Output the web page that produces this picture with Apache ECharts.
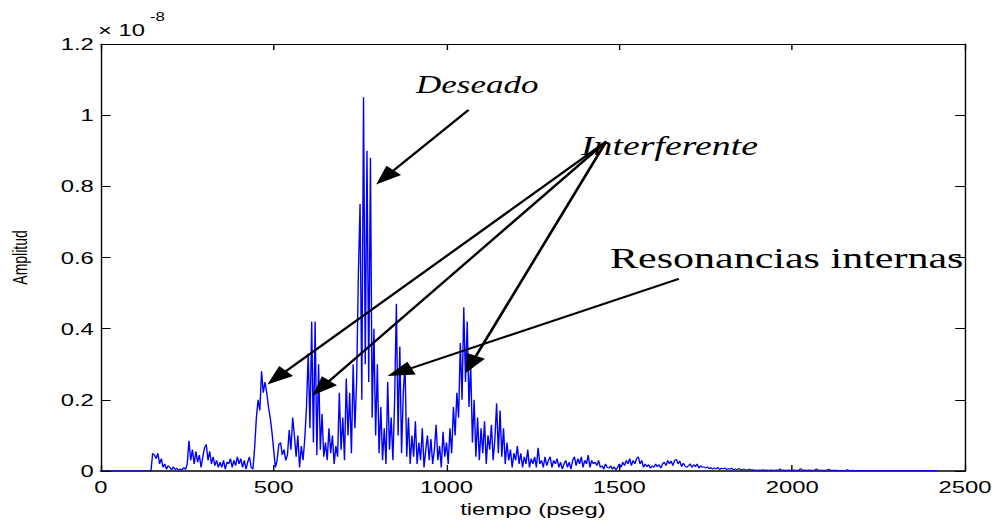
<!DOCTYPE html>
<html><head><meta charset="utf-8">
<script src="https://cdn.jsdelivr.net/npm/echarts@6.0.0/dist/echarts.min.js"></script>
<style>
html,body{margin:0;padding:0;background:#fff;overflow:hidden;}
#chart{width:712px;height:522px;transform:scaleX(1.40028);transform-origin:0 0;}
</style></head><body><div id="chart"></div>
<script>
// time axis (ps): first sample and sampling step
const timeStart = 0;
const timeStep = 5;
// amplitude in units of 1e-8, one value per sample
const amplitude = [
0,0,0,0,0,0,0,0,0,0,
0,0,0,0,0,0,0,0,0,0,
0,0,0,0,0,0,0,0,0,0,
0.05,0.045,0.035,0.05,0.02,0.035,0.01,0.02,0.005,0.015,
0.01,0.003,0.012,0.004,0.008,0.002,0.006,0.003,0.01,0.004,
0.02,0.085,0.03,0.06,0.02,0.055,0.025,0.045,0.01,0.04,
0.065,0.075,0.03,0.055,0.02,0.04,0.015,0.03,0.01,0.025,
0.01,0.03,0.005,0.025,0.02,0.035,0.01,0.03,0.015,0.04,
0.02,0.035,0.01,0.03,0.005,0.025,0.04,0.01,0.005,0.065,
0.15,0.2,0.17,0.28,0.22,0.25,0.22,0.18,0.15,0.11,
0.06,0.01,0.03,0.075,0.08,0.045,0.06,0.03,0.045,0.115,
0.06,0.15,0.1,0.04,0.1,0.01,0.07,0.03,0.09,0.18,
0.33,0.12,0.42,0.08,0.42,0.045,0.3,0.06,0.16,0.04,
0.08,0.03,0.12,0.05,0.1,0.02,0.07,0.04,0.22,0.06,
0.15,0.03,0.26,0.1,0.22,0.05,0.3,0.12,0.25,0.55,
0.75,0.2,1.05,0.3,0.9,0.25,0.88,0.15,0.4,0.1,
0.3,0.05,0.18,0.03,0.12,0.02,0.25,0.06,0.15,0.03,
0.2,0.47,0.1,0.35,0.05,0.22,0.3,0.04,0.15,0.02,
0.1,0.04,0.14,0.02,0.08,0.03,0.12,0.01,0.06,0.1,
0.03,0.09,0.02,0.06,0.13,0.03,0.07,0.01,0.11,0.04,
0.08,0.02,0.12,0.05,0.18,0.1,0.22,0.15,0.36,0.2,
0.46,0.25,0.42,0.18,0.3,0.08,0.2,0.04,0.15,0.03,
0.12,0.05,0.14,0.02,0.1,0.06,0.13,0.03,0.09,0.19,
0.05,0.17,0.04,0.12,0.02,0.08,0.03,0.06,0.01,0.05,
0.03,0.07,0.02,0.05,0.01,0.04,0.02,0.06,0.01,0.035,
0.02,0.04,0.01,0.065,0.02,0.03,0.01,0.04,0.015,0.03,
0.04,0.01,0.03,0.02,0.035,0.01,0.025,0.005,0.02,0.03,
0.01,0.025,0.005,0.03,0.04,0.015,0.035,0.02,0.04,0.01,
0.03,0.02,0.045,0.01,0.03,0.02,0.025,0.015,0.03,0.01,
0.015,0.005,0.02,0.01,0.008,0.015,0.005,0.012,0.003,0.01,
0.02,0.01,0.025,0.015,0.03,0.02,0.035,0.015,0.03,0.02,
0.035,0.04,0.02,0.03,0.01,0.02,0.012,0.018,0.008,0.015,
0.01,0.02,0.012,0.018,0.008,0.02,0.025,0.015,0.03,0.02,
0.028,0.015,0.03,0.033,0.02,0.028,0.012,0.022,0.015,0.01,
0.015,0.02,0.01,0.018,0.012,0.02,0.008,0.015,0.01,0.012,
0.008,0.012,0.006,0.01,0.005,0.009,0.006,0.01,0.004,0.008,
0.006,0.009,0.004,0.007,0.005,0.008,0.003,0.006,0.004,0.007,
0.005,0.003,0.006,0.004,0.002,0.005,0.003,0.004,0.002,0.003,
0.002,0.003,0.002,0.004,0.002,0.003,0.002,0.002,0.003,0.002,
0.002,0.003,0.002,0.006,0.002,0.003,0.002,0.002,0.003,0.002,
0.002,0.003,0.002,0.002,0.003,0.007,0.002,0.003,0.002,0.002,
0.003,0.002,0.002,0.002,0.006,0.003,0.002,0.002,0.002,0.002,
0.002,0.005,0.003,0.002,0.002,0.002,0.002,0.001,0.001,0.002,
0.001,0.002,0.004,0.001,0.001,0.002,0.001,0.001,0.001,0.001,
0.001,0.001,0.001,0.001,0.001,0.001,0.001,0.001,0.001,0.001,
0.001,0.001,0.001,0.001,0.001,0.001,0.001,0.001,0.001,0.001,
0.001,0.001,0.001,0.001,0.001,0.001,0.001,0.001,0.001,0.001,
0.001,0.001,0.001,0.001,0.001,0.001,0.001,0.001,0.001,0.001,
0.001,0.001,0.001,0.001,0.001
];
// axis ticks
const xTicks = [0, 500, 1000, 1500, 2000, 2500];
const yTicks = [0, 0.2, 0.4, 0.6, 0.8, 1, 1.2];
// annotation texts
const labelDeseado = 'Deseado';
const labelInterferente = 'Interferente';
const labelResonancias = 'Resonancias internas';
// arrows in data coordinates: [fromX, fromY, toX, toY]
const arrowsDeseado = [[1064, 1.015, 822, 0.825]];
const arrowsInterferente = [[1462, 0.926, 509, 0.262], [1462, 0.926, 637, 0.233], [1462, 0.926, 1070, 0.299]];
const arrowsResonancias = [[1672, 0.54, 864, 0.278]];

const seriesData = amplitude.map((v, i) => [timeStart + i * timeStep, v]);
const allArrows = arrowsDeseado.concat(arrowsInterferente, arrowsResonancias);

const chart = echarts.init(document.getElementById('chart'), null, {renderer: 'svg'});
const S = 997 / 712;
const hx = v => v / S;

const axisFont = 'Liberation Sans';
function baseAxis(extra) {
  return Object.assign({
    type: 'value',
    splitLine: {show: false},
    axisLine: {show: true, onZero: false, lineStyle: {color: '#000', width: 1}},
    axisTick: {show: true, inside: true, lineStyle: {color: '#000', width: 1}},
  }, extra);
}
const plainNum = v => String(v);

chart.setOption({
  animation: false,
  backgroundColor: '#fff',
  grid: {left: hx(98), right: 712 - hx(965), top: 44, bottom: 49, show: false},
  xAxis: [
    baseAxis({min: xTicks[0], max: xTicks[xTicks.length - 1], interval: xTicks[1] - xTicks[0], position: 'bottom',
      axisLine: {show: true, onZero: false, lineStyle: {color: '#000', width: 1.5}},
      axisTick: {show: true, inside: true, length: 6, lineStyle: {color: '#000'}},
      axisLabel: {color: '#000', fontFamily: axisFont, fontSize: 17, margin: 7, formatter: plainNum},
      name: 'tiempo (pseg)', nameLocation: 'middle', nameGap: 29,
      nameTextStyle: {color: '#000', fontFamily: axisFont, fontSize: 17}}),
    baseAxis({min: xTicks[0], max: xTicks[xTicks.length - 1], interval: xTicks[1] - xTicks[0], position: 'top',
      axisTick: {show: true, inside: true, length: 6, lineStyle: {color: '#000'}},
      axisLabel: {show: false}})
  ],
  yAxis: [
    baseAxis({min: yTicks[0], max: yTicks[yTicks.length - 1], interval: yTicks[1] - yTicks[0], position: 'left',
      axisTick: {show: true, inside: true, length: 7, lineStyle: {color: '#000'}},
      axisLabel: {color: '#000', fontFamily: axisFont, fontSize: 17, margin: 5, formatter: plainNum},
      name: 'Amplitud', nameLocation: 'middle', nameGap: 50,
      nameTextStyle: {color: '#000', fontFamily: axisFont, fontSize: 14}}),
    baseAxis({min: yTicks[0], max: yTicks[yTicks.length - 1], interval: yTicks[1] - yTicks[0], position: 'right',
      axisTick: {show: true, inside: true, length: 7, lineStyle: {color: '#000'}},
      axisLabel: {show: false}})
  ],
  series: [{
    type: 'line',
    xAxisIndex: 0, yAxisIndex: 0,
    data: seriesData,
    showSymbol: false,
    symbol: 'none',
    lineStyle: {color: '#0000ff', width: 1},
    itemStyle: {color: '#0000ff'},
    z: 2,
    markLine: {
      silent: true,
      animation: false,
      symbol: ['none', 'triangle'],
      symbolSize: [14, 19],
      label: {show: false},
      emphasis: {disabled: true},
      lineStyle: {color: '#000', width: 2, type: 'solid'},
      itemStyle: {color: '#000'},
      data: allArrows.map(a => [{coord: [a[0], a[1]]}, {coord: [a[2], a[3]]}])
    }
  }],
  graphic: [
    {type: 'text', x: hx(98), y: 21, style: {text: '× 10', fontFamily: axisFont, fontSize: 17, fill: '#000'}},
    {type: 'text', x: hx(150), y: 11, style: {text: '-8', fontFamily: axisFont, fontSize: 12, fill: '#000'}},
    {type: 'text', x: hx(416), y: 85, style: {text: labelDeseado, fontFamily: 'Liberation Serif', fontStyle: 'italic', fontSize: 25, fill: '#000', verticalAlign: 'middle'}},
    {type: 'text', x: hx(581), y: 146, style: {text: labelInterferente, fontFamily: 'Liberation Serif', fontStyle: 'italic', fontSize: 27, fill: '#000', verticalAlign: 'middle'}},
    {type: 'text', x: hx(610), y: 258, style: {text: labelResonancias, fontFamily: 'Liberation Serif', fontSize: 30, fill: '#000', verticalAlign: 'middle'}}
  ]
});
</script>
</body></html>
